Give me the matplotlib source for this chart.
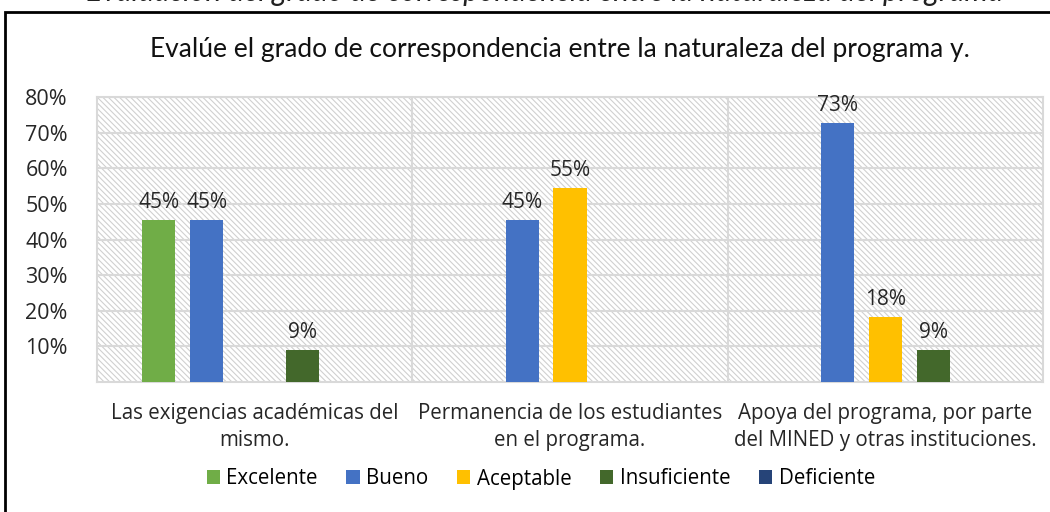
#!/usr/bin/env python3
"""Grado de correspondencia - grouped bar chart"""
import numpy as np
import matplotlib.pyplot as plt
from matplotlib.patches import Rectangle

categories = ['Las exigencias académicas del\nmismo.',
              'Permanencia de los estudiantes\nen el programa.',
              'Apoya del programa, por parte\ndel MINED y otras instituciones.']
series = ['Excelente', 'Bueno', 'Aceptable', 'Insuficiente', 'Deficiente']
colors = ['#70AD47', '#4472C4', '#FFC000', '#43682B', '#264478']

excelente = [0.4545, 0.0, 0.0]
bueno = [0.4545, 0.4545, 0.7273]
aceptable = [0.0, 0.5455, 0.1818]
insuficiente = [0.0909, 0.0, 0.0909]
deficiente = [0.0, 0.0, 0.0]
values = [excelente, bueno, aceptable, insuficiente, deficiente]

yticks = [0.1, 0.2, 0.3, 0.4, 0.5, 0.6, 0.7, 0.8]

title = 'Evalúe el grado de correspondencia entre la naturaleza del programa y.'
caption = 'Evaluación del grado de correspondencia entre la naturaleza del programa'

fig = plt.figure(figsize=(10.5, 5.12), dpi=100)
plt.rcParams['hatch.color'] = '#D0D0D0'
plt.rcParams['hatch.linewidth'] = 0.8

# outer border (clipped on the right/bottom)
fig.patches.append(Rectangle((5 / 1050, -0.1), 1.2, 1 - 12 / 512 + 0.1,
                             transform=fig.transFigure, fill=False,
                             edgecolor='black', linewidth=2))

# caption cut off at the top of the image
fig.text(545 / 1050, 1 - 0.5 / 512, caption, ha='center', va='baseline',
         fontsize=21.5, style='italic', family='Lato', color='#222222')

fig.text(560 / 1050, 1 - 50 / 512, title, ha='center', va='center',
         fontsize=19, family='Lato', color='#111111')

ax = fig.add_axes([97 / 1050, 1 - 382 / 512, 946 / 1050, 285 / 512])
ax.patch.set_facecolor('white')
ax.patch.set_hatch('\\\\\\\\\\\\')
ax.patch.set_edgecolor('#D0D0D0')

x = np.arange(len(categories))
step = 0.152
width = 0.105
for i, (name, vals, c) in enumerate(zip(series, values, colors)):
    pos = x + (i - 2) * step
    bars = ax.bar(pos, vals, width, color=c, label=name, zorder=3)
    for b, v in zip(bars, vals):
        if v > 0:
            ax.annotate(f'{v:.0%}', (b.get_x() + b.get_width() / 2, v),
                        xytext=(0, 5), textcoords='offset points',
                        ha='center', va='bottom', fontsize=15,
                        family='Open Sans', color='#262626')

ax.set_xlim(-0.5, 2.5)
ax.set_ylim(0, 0.8)
ax.set_yticks(yticks)
ax.set_yticklabels([f'{t:.0%}' for t in yticks], family='Open Sans',
                   fontsize=15.5, color='#262626')
ax.tick_params(axis='y', length=0, pad=21)
ax.set_xticks(x)
ax.set_xticklabels(categories, family='Open Sans', fontsize=14.8,
                   color='#262626', linespacing=1.38)
ax.tick_params(axis='x', length=0, pad=15)

ax.grid(axis='y', color='#D9D9D9', linewidth=1.5, zorder=1)
for xv in [0.5, 1.5]:
    ax.axvline(xv, color='#D9D9D9', linewidth=1.5, zorder=1)
for s in ax.spines.values():
    s.set_color('#D9D9D9')
    s.set_linewidth(1.5)

fig.legend(loc='center', bbox_to_anchor=(0.515, 1 - 479 / 512), ncol=5,
           frameon=False, handlelength=0.65, handleheight=0.65,
           handletextpad=0.3, columnspacing=1.4,
           prop={'family': 'Open Sans', 'size': 14.8})

plt.savefig('out.png', dpi=100)
plt.close()
